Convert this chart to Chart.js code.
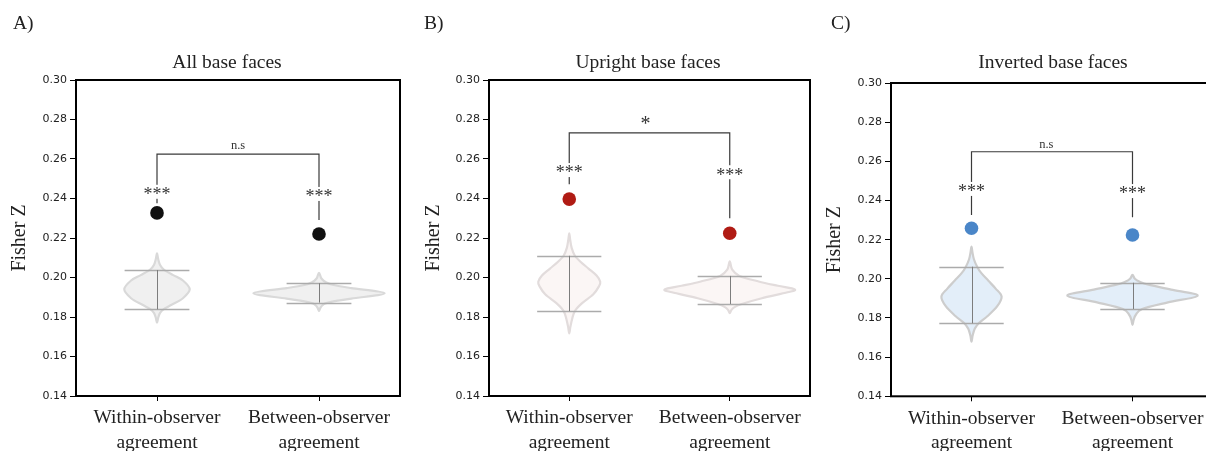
<!DOCTYPE html>
<html>
<head>
<meta charset="utf-8">
<script src="https://cdn.jsdelivr.net/npm/chart.js@4.4.0/dist/chart.umd.min.js"></script>
<style>
  html, body { margin:0; padding:0; background:#fff; }
  #wrap { position:relative; width:1206px; height:451px; overflow:hidden; }
  #wrap canvas { position:absolute; top:0; }
</style>
</head>
<body>
<div id="wrap">
  <canvas id="chartA" width="410" height="451" style="left:0"></canvas>
  <canvas id="chartB" width="410" height="451" style="left:410px"></canvas>
  <canvas id="chartC" width="410" height="451" style="left:820px"></canvas>
</div>
<script>
// ---- data ----
const categories = [['Within-observer', 'agreement'], ['Between-observer', 'agreement']]
const panelTitles = ['All base faces', 'Upright base faces', 'Inverted base faces']
const panelLetters = ['A)', 'B)', 'C)']
const yTicks = [0.14, 0.16, 0.18, 0.20, 0.22, 0.24, 0.26, 0.28, 0.30]

// observed agreement (big dots)
const observedA = [0.2327, 0.2220]
const observedB = [0.2397, 0.2224]
const observedC = [0.2258, 0.2224]

// lower / upper interval lines of each null distribution
const intervalA = [[0.1839, 0.2038], [0.1873, 0.1971]]
const intervalB = [[0.1830, 0.2110], [0.1866, 0.2008]]
const intervalC = [[0.1773, 0.2062], [0.1846, 0.1980]]

// violin outlines: Fisher Z levels and half widths (category units)
const violinAWithinY = [0.1771, 0.1795, 0.1820, 0.1839, 0.1862, 0.1895, 0.1940, 0.1985, 0.2012, 0.2038, 0.2065, 0.2095, 0.2122]
const violinAWithinW = [0, 0.007, 0.018, 0.04, 0.09, 0.16, 0.202, 0.16, 0.10, 0.045, 0.018, 0.007, 0]
const violinABetweenY = [0.1830, 0.1845, 0.1860, 0.1873, 0.1893, 0.1920, 0.1946, 0.1962, 0.1975, 0.1995, 0.2024]
const violinABetweenW = [0, 0.008, 0.022, 0.055, 0.2, 0.405, 0.2, 0.09, 0.045, 0.015, 0]
const violinBWithinY = [0.1717, 0.1750, 0.1790, 0.1830, 0.1870, 0.1915, 0.1955, 0.1979, 0.2010, 0.2045, 0.2080, 0.2110, 0.2150, 0.2190, 0.2224]
const violinBWithinW = [0, 0.007, 0.018, 0.035, 0.08, 0.15, 0.185, 0.193, 0.17, 0.12, 0.07, 0.035, 0.015, 0.006, 0]
const violinBBetweenY = [0.1819, 0.1835, 0.1850, 0.1866, 0.1895, 0.1925, 0.1940, 0.1958, 0.1980, 0.2008, 0.2040, 0.2082]
const violinBBetweenW = [0, 0.01, 0.03, 0.075, 0.2, 0.36, 0.405, 0.3, 0.18, 0.06, 0.015, 0]
const violinCWithinY = [0.1679, 0.1710, 0.1745, 0.1773, 0.1810, 0.1860, 0.1909, 0.1950, 0.1990, 0.2030, 0.2062, 0.2100, 0.2135, 0.2164]
const violinCWithinW = [0, 0.007, 0.02, 0.045, 0.1, 0.16, 0.187, 0.15, 0.105, 0.06, 0.035, 0.015, 0.006, 0]
const violinCBetweenY = [0.1764, 0.1790, 0.1815, 0.1846, 0.1880, 0.1914, 0.1945, 0.1970, 0.1985, 0.2000, 0.2020]
const violinCBetweenW = [0, 0.007, 0.02, 0.06, 0.22, 0.405, 0.24, 0.1, 0.045, 0.015, 0]

// significance annotations
const starLabels = ['***', '***']
const compareLabels = ['n.s', '*', 'n.s']
const bracketLevels = [0.2625, 0.2732, 0.2649]
const compareLabelY = [0.2666, 0.2794, 0.2683]
const compareLabelX = [0.5, 0.475, 0.465]
const starYA = [0.2434, 0.2423], stemEndA = [0.2376, 0.2291]
const starYB = [0.2544, 0.2533], stemEndB = [0.2472, 0.2300]
const starYC = [0.2459, 0.2448], stemEndC = [0.2326, 0.2314]

// ---- styling / layout ----
const serif = "'Liberation Serif', 'Times New Roman', serif"
const sans = "'DejaVu Sans', sans-serif"

const panels = [
  { canvas:'chartA', idx:0, dot:'#111111', fill:'#f0f0f0', edge:'#d9d9d9',
    observed:observedA, interval:intervalA, starY:starYA, stemEnd:stemEndA,
    violins:[{ys:violinAWithinY, ws:violinAWithinW}, {ys:violinABetweenY, ws:violinABetweenW}],
    top:80, right:10, yAxisW:76, xAxisH:55, yTitlePad:8, titleX:227, letterX:13, compSize:12.5 },
  { canvas:'chartB', idx:1, dot:'#b01b14', fill:'#fbf6f5', edge:'#e2dcdc',
    observed:observedB, interval:intervalB, starY:starYB, stemEnd:stemEndB,
    violins:[{ys:violinBWithinY, ws:violinBWithinW}, {ys:violinBBetweenY, ws:violinBBetweenW}],
    top:80, right:10, yAxisW:79, xAxisH:55, yTitlePad:12, titleX:238, letterX:14, compSize:20 },
  { canvas:'chartC', idx:2, dot:'#4a86c8', fill:'#e3eef9', edge:'#cdcdcd',
    observed:observedC, interval:intervalC, starY:starYC, stemEnd:stemEndC,
    violins:[{ys:violinCWithinY, ws:violinCWithinW}, {ys:violinCBetweenY, ws:violinCBetweenW}],
    top:83, right:17, yAxisW:71, xAxisH:54.7, yTitlePad:3, titleX:233, letterX:11, compSize:12.5 }
]

// closed Catmull-Rom path through pixel points
function splinePath(ctx, p){
  const n = p.length
  ctx.moveTo(p[0][0], p[0][1])
  for (let i = 0; i < n; i++){
    const p0 = p[(i-1+n)%n], p1 = p[i], p2 = p[(i+1)%n], p3 = p[(i+2)%n]
    ctx.bezierCurveTo(p1[0]+(p2[0]-p0[0])/6, p1[1]+(p2[1]-p0[1])/6,
                      p2[0]-(p3[0]-p1[0])/6, p2[1]-(p3[1]-p1[1])/6, p2[0], p2[1])
  }
  ctx.closePath()
}

function panelPlugin(p){
  return {
    id: 'panelExtras',
    beforeDatasetsDraw(chart){
      const {ctx, scales:{x, y}} = chart
      ctx.save()
      p.violins.forEach((v, i) => {
        const pts = []
        v.ys.forEach((val, k) => pts.push([x.getPixelForValue(i - v.ws[k]), y.getPixelForValue(val)]))
        for (let k = v.ys.length - 2; k > 0; k--) pts.push([x.getPixelForValue(i + v.ws[k]), y.getPixelForValue(v.ys[k])])
        ctx.beginPath(); splinePath(ctx, pts)
        ctx.fillStyle = p.fill; ctx.fill()
        ctx.lineWidth = 2.2; ctx.strokeStyle = p.edge; ctx.stroke()
      })
      p.interval.forEach((iv, i) => {
        ctx.strokeStyle = '#ababab'; ctx.lineWidth = 1.3
        iv.forEach(val => {
          const py = Math.round(y.getPixelForValue(val)) + 0.5
          ctx.beginPath(); ctx.moveTo(x.getPixelForValue(i - 0.2), py); ctx.lineTo(x.getPixelForValue(i + 0.2), py); ctx.stroke()
        })
        ctx.strokeStyle = '#7d7d7d'; ctx.lineWidth = 1
        const cx = Math.round(x.getPixelForValue(i)) + 0.5
        ctx.beginPath(); ctx.moveTo(cx, y.getPixelForValue(iv[0])); ctx.lineTo(cx, y.getPixelForValue(iv[1])); ctx.stroke()
      })
      ctx.restore()
    },
    afterDatasetsDraw(chart){
      const {ctx, scales:{x, y}} = chart
      ctx.save()
      ctx.textAlign = 'center'; ctx.textBaseline = 'alphabetic'
      starLabels.forEach((lab, i) => {
        const cx = x.getPixelForValue(i), cy = y.getPixelForValue(p.starY[i])
        ctx.fillStyle = '#fff'; ctx.fillRect(cx - 16, cy - 7, 32, 14)
        ctx.fillStyle = '#333'; ctx.font = `18px ${serif}`
        ctx.fillText(lab, cx, cy + 0.46 * 18)
      })
      const s = p.compSize
      ctx.fillStyle = '#333'; ctx.font = `${s}px ${serif}`
      const ly = y.getPixelForValue(compareLabelY[p.idx])
      ctx.fillText(compareLabels[p.idx], x.getPixelForValue(compareLabelX[p.idx]), ly + (compareLabels[p.idx] === '*' ? 0.48 : 0.23) * s)
      ctx.restore()
    },
    afterDraw(chart){
      const {ctx, chartArea:a} = chart
      ctx.save()
      ctx.strokeStyle = '#000'; ctx.lineWidth = 2
      ctx.strokeRect(a.left, a.top, a.right - a.left, a.bottom - a.top)
      ctx.fillStyle = '#222'; ctx.font = `19.5px ${serif}`
      ctx.textAlign = 'left'; ctx.textBaseline = 'alphabetic'
      ctx.fillText(panelLetters[p.idx], p.letterX, 29)
      ctx.textAlign = 'center'
      ctx.fillText(panelTitles[p.idx], p.titleX, 68)
      ctx.restore()
    }
  }
}

panels.forEach(p => {
  const b = bracketLevels[p.idx]
  new Chart(document.getElementById(p.canvas), {
    type: 'scatter',
    data: {
      datasets: [
        { data: p.observed.map((v, i) => ({x: i, y: v})), pointRadius: 6.8, pointHoverRadius: 6.8,
          backgroundColor: p.dot, borderWidth: 0 },
        { type: 'line', data: [{x:0, y:p.stemEnd[0]}, {x:0, y:b}, {x:1, y:b}, {x:1, y:p.stemEnd[1]}],
          borderColor: '#3a3a3a', borderWidth: 1.2, pointRadius: 0, fill: false, tension: 0 }
      ]
    },
    options: {
      responsive: false, animation: false,
      layout: { padding: { top: p.top, right: p.right, left: 0, bottom: 0 } },
      plugins: { legend: { display: false }, tooltip: { enabled: false } },
      scales: {
        x: {
          type: 'linear', min: -0.5, max: 1.5,
          afterBuildTicks: s => { s.ticks = [{value: 0}, {value: 1}] },
          afterFit: s => { s.height = p.xAxisH },
          grid: { display: true, drawOnChartArea: false, tickLength: 5, color: '#000', lineWidth: 1 },
          border: { display: false },
          ticks: { callback: (v, i) => categories[i], autoSkip: false, maxRotation: 0, padding: 5,
                   color: '#222', font: { family: serif, size: 19.5, lineHeight: 1.25 } }
        },
        y: {
          min: 0.14, max: 0.30,
          afterBuildTicks: s => { s.ticks = yTicks.map(v => ({value: v})) },
          afterFit: s => { s.width = p.yAxisW },
          grid: { display: true, drawOnChartArea: false, tickLength: 6, color: '#000', lineWidth: 1 },
          border: { display: false },
          ticks: { callback: v => v.toFixed(2), padding: 3, color: '#222', font: { family: sans, size: 11 } },
          title: { display: true, text: 'Fisher Z', color: '#222', padding: { top: p.yTitlePad, bottom: 0 },
                   font: { family: serif, size: 20 } }
        }
      }
    },
    plugins: [panelPlugin(p)]
  })
})
</script>
</body>
</html>
